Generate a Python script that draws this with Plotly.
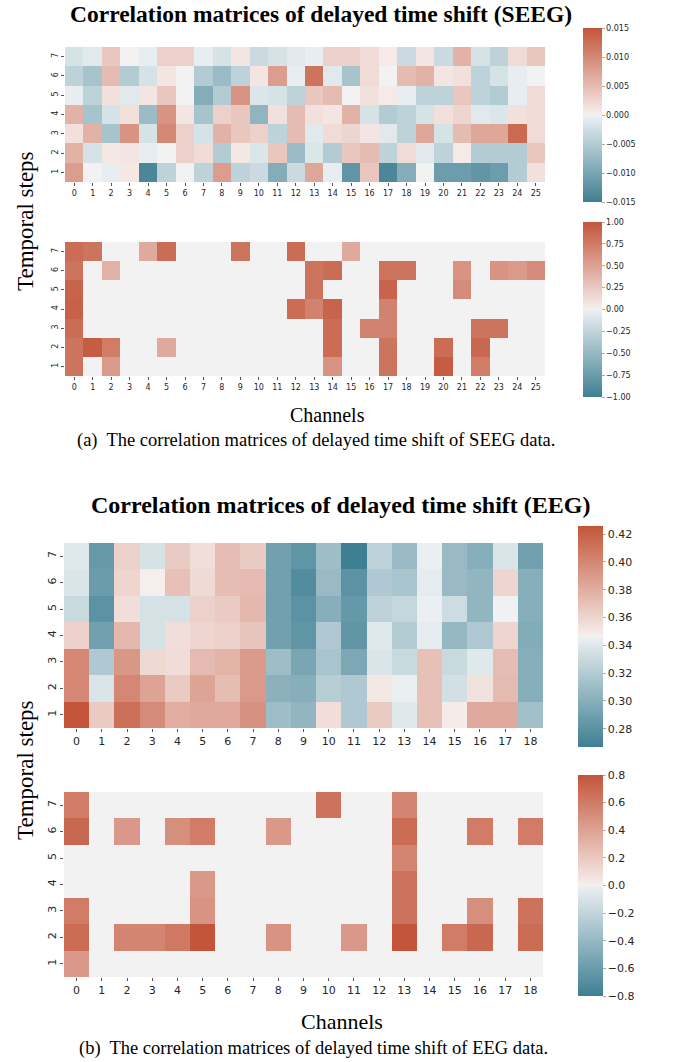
import plotly.graph_objects as go

# ---------------- data ----------------
steps = [1, 2, 3, 4, 5, 6, 7]
seeg_channels = list(range(26))
eeg_channels = list(range(19))

# SEEG correlation (rows listed from step 7 down to step 1)
seeg_corr_top_down = [
    [-0.002, -0.001, 0.004, 0.0, -0.0005, 0.003, 0.003, -0.0005, -0.002, 0.001, -0.003, -0.002, -0.001, -0.0005, 0.003, 0.003, 0.002, 0.0005, -0.003, 0.001, -0.003, 0.006, -0.002, -0.004, 0.002, 0.004],
    [-0.004, -0.006, 0.005, -0.005, -0.002, 0.001, 0.0, -0.005, -0.007, -0.004, 0.001, 0.008, -0.0005, 0.012, -0.001, -0.006, 0.002, 0.0, 0.005, 0.006, 0.001, 0.0015, -0.004, -0.002, -0.0005, 0.0],
    [-0.0005, -0.004, 0.0015, -0.001, 0.001, 0.004, 0.0, -0.009, -0.005, 0.009, -0.0015, -0.002, -0.004, 0.004, 0.005, 0.0, 0.0015, 0.0005, -0.0005, -0.004, -0.004, 0.004, -0.004, -0.005, -0.0005, 0.002],
    [0.006, -0.006, -0.002, 0.0015, -0.007, 0.009, 0.001, -0.006, 0.003, 0.004, -0.008, 0.0015, 0.005, 0.0015, 0.001, 0.006, -0.002, -0.005, -0.004, -0.002, 0.0015, 0.0025, -0.001, -0.0015, 0.0015, 0.002],
    [0.0015, 0.006, -0.006, 0.009, -0.002, 0.010, 0.003, -0.002, 0.006, 0.004, 0.003, -0.004, 0.005, -0.001, 0.002, 0.0025, 0.001, -0.001, -0.004, 0.007, -0.002, 0.005, 0.007, 0.007, 0.013, 0.002],
    [0.006, -0.002, 0.0008, 0.001, -0.0005, 0.0, 0.003, 0.002, -0.005, 0.0008, -0.0015, 0.004, -0.007, -0.0015, -0.005, 0.004, 0.005, -0.004, 0.002, -0.001, -0.004, 0.0005, -0.005, -0.005, -0.005, 0.004],
    [0.008, 0.0, -0.0005, 0.0008, -0.014, -0.004, 0.0, -0.004, 0.008, -0.004, -0.003, -0.009, -0.003, 0.007, -0.0005, -0.012, 0.004, -0.014, -0.009, 0.0, -0.011, -0.011, -0.012, -0.011, -0.005, 0.0015],
]

# SEEG significance-filtered matrix (step 7 down to step 1)
seeg_sig_top_down = [
    [0.85, 0.8, 0, 0, 0.45, 0.85, 0, 0, 0, 0.8, 0, 0, 0.85, 0, 0, 0.45, 0, 0, 0, 0, 0, 0, 0, 0, 0, 0],
    [0.8, 0, 0.4, 0, 0, 0, 0, 0, 0, 0, 0, 0, 0, 0.8, 0.85, 0, 0, 0.8, 0.8, 0, 0, 0.6, 0, 0.6, 0.55, 0.65],
    [0.9, 0, 0, 0, 0, 0, 0, 0, 0, 0, 0, 0, 0, 0.8, 0, 0, 0, 0.9, 0, 0, 0, 0.65, 0, 0, 0, 0],
    [0.92, 0, 0, 0, 0, 0, 0, 0, 0, 0, 0, 0, 0.85, 0.7, 0.9, 0, 0, 0.7, 0, 0, 0, 0, 0, 0, 0, 0],
    [0.85, 0, 0, 0, 0, 0, 0, 0, 0, 0, 0, 0, 0, 0, 0.85, 0, 0.7, 0.7, 0, 0, 0, 0, 0.8, 0.8, 0, 0],
    [0.8, 0.95, 0.75, 0, 0, 0.45, 0, 0, 0, 0, 0, 0, 0, 0, 0.85, 0, 0, 0.8, 0, 0, 0.85, 0, 0.88, 0, 0, 0],
    [0.8, 0, 0.55, 0, 0, 0, 0, 0, 0, 0, 0, 0, 0, 0, 0.6, 0, 0, 0.8, 0, 0, 0.95, 0, 0.75, 0, 0, 0],
]

# EEG correlation (step 7 down to step 1)
eeg_corr_top_down = [
    [0.340, 0.285, 0.362, 0.335, 0.365, 0.355, 0.372, 0.365, 0.290, 0.282, 0.310, 0.2668, 0.325, 0.308, 0.345, 0.308, 0.300, 0.338, 0.290],
    [0.338, 0.287, 0.360, 0.347, 0.370, 0.357, 0.372, 0.373, 0.290, 0.276, 0.308, 0.280, 0.318, 0.315, 0.343, 0.308, 0.305, 0.360, 0.300],
    [0.330, 0.280, 0.355, 0.335, 0.335, 0.362, 0.365, 0.375, 0.290, 0.280, 0.300, 0.284, 0.325, 0.328, 0.345, 0.332, 0.305, 0.346, 0.300],
    [0.362, 0.290, 0.375, 0.335, 0.355, 0.360, 0.362, 0.368, 0.290, 0.282, 0.318, 0.283, 0.340, 0.320, 0.343, 0.306, 0.318, 0.360, 0.298],
    [0.400, 0.318, 0.392, 0.358, 0.356, 0.373, 0.377, 0.390, 0.310, 0.294, 0.315, 0.295, 0.338, 0.330, 0.370, 0.330, 0.340, 0.372, 0.300],
    [0.400, 0.338, 0.400, 0.385, 0.365, 0.385, 0.372, 0.390, 0.302, 0.300, 0.322, 0.318, 0.350, 0.345, 0.370, 0.334, 0.353, 0.373, 0.300],
    [0.4258, 0.365, 0.412, 0.398, 0.380, 0.382, 0.382, 0.395, 0.310, 0.305, 0.355, 0.318, 0.365, 0.340, 0.370, 0.348, 0.382, 0.382, 0.312],
]

# EEG significance-filtered matrix (step 7 down to step 1)
eeg_sig_top_down = [
    [0.6, 0, 0, 0, 0, 0, 0, 0, 0, 0, 0.65, 0, 0, 0.55, 0, 0, 0, 0, 0],
    [0.7, 0, 0.45, 0, 0.5, 0.6, 0, 0, 0.45, 0, 0, 0, 0, 0.68, 0, 0, 0.6, 0, 0.6],
    [0, 0, 0, 0, 0, 0, 0, 0, 0, 0, 0, 0, 0, 0.55, 0, 0, 0, 0, 0],
    [0, 0, 0, 0, 0, 0.45, 0, 0, 0, 0, 0, 0, 0, 0.65, 0, 0, 0, 0, 0],
    [0.6, 0, 0, 0, 0, 0.48, 0, 0, 0, 0, 0, 0, 0, 0.65, 0, 0, 0.5, 0, 0.65],
    [0.68, 0, 0.55, 0.55, 0.62, 0.8, 0, 0, 0.48, 0, 0, 0.45, 0, 0.8, 0, 0.6, 0.7, 0, 0.68],
    [0.45, 0, 0, 0, 0, 0, 0, 0, 0, 0, 0, 0, 0, 0, 0, 0, 0, 0, 0],
]

seeg_corr_ticks = [-0.015, -0.010, -0.005, 0.000, 0.005, 0.010, 0.015]
seeg_sig_ticks = [-1.0, -0.75, -0.5, -0.25, 0.0, 0.25, 0.5, 0.75, 1.0]
eeg_corr_ticks = [0.28, 0.30, 0.32, 0.34, 0.36, 0.38, 0.40, 0.42]
eeg_sig_ticks = [-0.8, -0.6, -0.4, -0.2, 0.0, 0.2, 0.4, 0.6, 0.8]

# ---------------- styling ----------------
W, H = 683, 1062
NEG = "#3f7f93"
POS = "#c3553a"
cscale = [[0.0, NEG], [0.496, "#ebf0f2"], [0.5, "#f2f2f2"], [0.504, "#f6eeec"], [1.0, POS]]
TICKC = "#262626"


def px(x):
    return x / W


def py(y):
    return 1 - y / H


panels = [
    (seeg_corr_top_down, seeg_channels, 65, 545, 47, 182, -0.015, 0.015, 583, 19, 28, 202, seeg_corr_ticks, ".3f", 8),
    (seeg_sig_top_down, seeg_channels, 65, 545, 242, 376, -1.0, 1.0, 583, 19, 222, 397, seeg_sig_ticks, ".2f", 8),
    (eeg_corr_top_down, eeg_channels, 64, 543, 543, 728, min(min(r) for r in eeg_corr_top_down), max(max(r) for r in eeg_corr_top_down), 578, 25, 526, 747, eeg_corr_ticks, ".2f", 11),
    (eeg_sig_top_down, eeg_channels, 64, 543, 792, 977, -0.8, 0.8, 578, 25, 775, 996, eeg_sig_ticks, ".1f", 11),
]

fig = go.Figure()
layout_axes = {}
for i, (zt, chans, x0, x1, y0, y1, zmin, zmax, cbx, cbt, cby0, cby1, ticks, fmt, fs) in enumerate(panels, start=1):
    z = list(reversed(zt))
    xa = "x" if i == 1 else f"x{i}"
    ya = "y" if i == 1 else f"y{i}"
    ticktext = [("\u2212" + format(abs(t), fmt)) if t < 0 else format(t, fmt) for t in ticks]
    fig.add_trace(go.Heatmap(
        z=z, x=chans, y=steps, xaxis=xa, yaxis=ya,
        zmin=zmin, zmax=zmax, colorscale=cscale,
        colorbar=dict(
            x=px(cbx), xanchor="left", thickness=cbt, thicknessmode="pixels",
            len=cby1 - cby0, lenmode="pixels", y=py((cby0 + cby1) / 2), yanchor="middle",
            outlinewidth=0, tickvals=ticks, ticktext=ticktext,
            ticks="outside", ticklen=3, tickcolor="#aaaaaa",
            tickfont=dict(family="DejaVu Sans", size=fs, color=TICKC),
            xpad=0, ypad=0,
        ),
    ))
    xkey = "xaxis" if i == 1 else f"xaxis{i}"
    ykey = "yaxis" if i == 1 else f"yaxis{i}"
    layout_axes[xkey] = dict(
        domain=[px(x0), px(x1)], anchor=ya, range=[-0.5, len(chans) - 0.5],
        tickvals=chans, ticktext=[str(c) for c in chans], tickangle=0,
        showgrid=False, zeroline=False, showline=False,
        ticks="outside", ticklen=3, tickcolor="#555555",
        tickfont=dict(family="DejaVu Sans", size=fs, color=TICKC),
    )
    layout_axes[ykey] = dict(
        domain=[py(y1), py(y0)], anchor=xa, range=[0.5, 7.5],
        tickvals=steps, ticktext=[str(s) for s in steps], tickangle=-90,
        showgrid=False, zeroline=False, showline=False,
        ticks="outside", ticklen=3, tickcolor="#555555",
        tickfont=dict(family="DejaVu Sans", size=fs, color=TICKC),
    )

serif = "Liberation Serif"
ann = [
    dict(text="<b>Correlation matrices of delayed time shift (SEEG)</b>", x=px(321), y=py(14), size=23.5),
    dict(text="<b>Correlation matrices of delayed time shift (EEG)</b>", x=px(340), y=py(505), size=24),
    dict(text="Channels", x=px(327), y=py(415), size=20),
    dict(text="Channels", x=px(342), y=py(1021), size=22),
    dict(text="(a)\u00a0 The correlation matrices of delayed time shift of SEEG data.", x=px(316), y=py(440), size=18.5),
    dict(text="(b)\u00a0 The correlation matrices of delayed time shift of EEG data.", x=px(313), y=py(1048), size=18.5),
]
annotations = [
    dict(text=a["text"], x=a["x"], y=a["y"], xref="paper", yref="paper", showarrow=False,
         xanchor="center", yanchor="middle", font=dict(family=serif, size=a["size"], color="black"))
    for a in ann
]
for yc in (221, 770):
    annotations.append(dict(text="Temporal steps", x=px(25), y=py(yc), xref="paper", yref="paper",
                            showarrow=False, textangle=-90, xanchor="center", yanchor="middle",
                            font=dict(family=serif, size=23, color="black")))

fig.update_layout(
    width=W, height=H, margin=dict(l=0, r=0, t=0, b=0),
    paper_bgcolor="white", plot_bgcolor="white",
    annotations=annotations, **layout_axes,
)

# remove the default page margin so the figure fills the window exactly
fig.write_html(
    "out.html",
    config={"displayModeBar": False},
    post_script="document.body.style.margin='0';document.body.style.overflow='hidden';",
)
